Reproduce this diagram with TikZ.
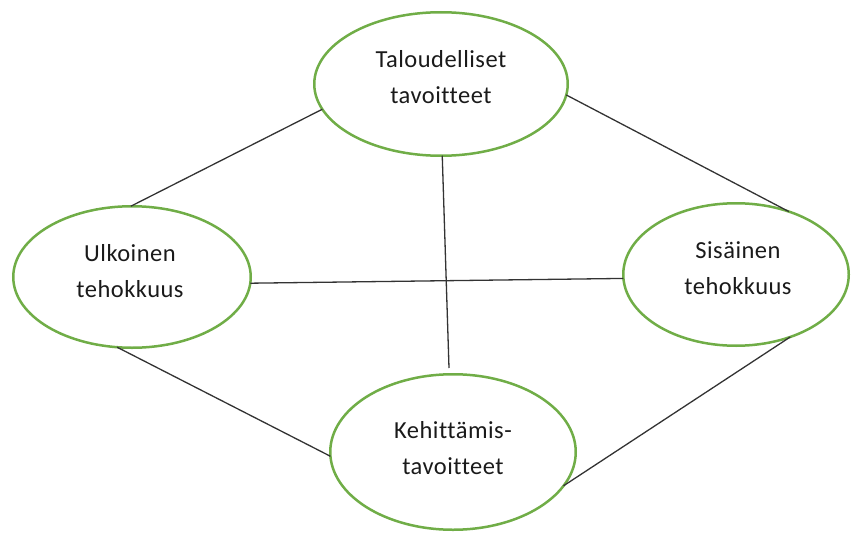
\documentclass[tikz,border=0pt]{standalone}
\usepackage{fontspec}
\setmainfont{Carlito}[LetterSpace=2,Ligatures=NoCommon]
\usetikzlibrary{shapes.geometric}
\definecolor{ogreen}{HTML}{70AD47}
\definecolor{lineg}{HTML}{333333}
\definecolor{txt}{HTML}{1A1A1A}
\begin{document}
\begin{tikzpicture}[x=1pt,y=-1pt,
  oval/.style={ellipse,draw=ogreen,line width=2.5pt,inner sep=0pt,outer sep=0pt},
  lbl/.style={align=center,font=\fontsize{24.5}{36}\selectfont,text=txt,inner sep=0pt},
  conn/.style={draw=lineg,line width=1.3pt}]
\useasboundingbox (0,0) rectangle (851,535);
\node[oval,minimum width=253.5pt,minimum height=143.5pt] (top) at (441,84) {};
\node[oval,minimum width=237.5pt,minimum height=141.5pt] (left) at (132,277) {};
\node[oval,minimum width=225.5pt,minimum height=142.5pt] (right) at (736,274.5) {};
\node[oval,minimum width=245.5pt,minimum height=155.5pt] (bottom) at (453,452) {};
\node[lbl] (toptxt) at (441,77) {Taloudelliset\\tavoitteet};
\node[lbl] (lefttxt) at (130,271) {Ulkoinen\\tehokkuus};
\node[lbl] (righttxt) at (738,268) {Sisäinen\\tehokkuus};
\node[lbl] (bottomtxt) at (453,448) {Kehittämis-\\tavoitteet};
\coordinate (vend) at (449,368);
\draw[conn] (top.192.8) -- (left.91);
\draw[conn] (top.355) -- (right.50.3);
\draw[conn] (top.271.5) -- (vend);
\draw[conn] (left.357) -- (right.182.2);
\draw[conn] (left.258.8) -- (bottom.182.3);
\draw[conn] (right.311.6) -- (bottom.343.2);
\end{tikzpicture}
\end{document}
